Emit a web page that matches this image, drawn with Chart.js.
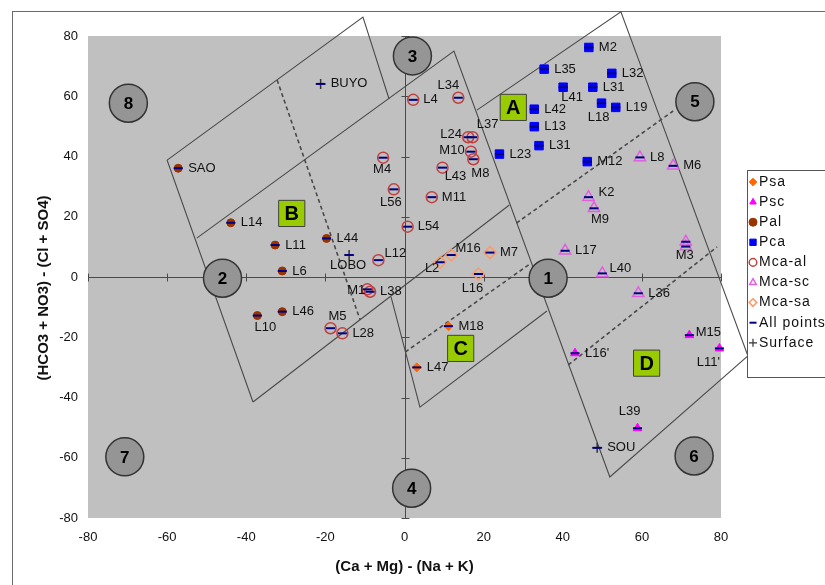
<!DOCTYPE html>
<html>
<head>
<meta charset="utf-8">
<script src="https://cdn.jsdelivr.net/npm/chart.js@4/dist/chart.umd.min.js"></script>
<style>
  html, body { margin: 0; padding: 0; background: #fff; }
</style>
</head>
<body>
<canvas id="chart" width="825" height="585"></canvas>
<script>
// samples, one set of arrays per group
const psaNames = ['M18', 'L47']
const psaX = [11.1, 3.1]
const psaY = [-16.3, -30.0]

const pscNames = ["L16'", 'M15', "L11'", 'L39']
const pscX = [43.1, 72.0, 79.6, 58.9]
const pscY = [-25.3, -19.3, -23.7, -50.2]

const palNames = ['SAO', 'L14', 'L11', 'L44', 'L6', 'L46', 'L10']
const palX = [-57.2, -43.9, -32.7, -19.7, -30.9, -30.9, -37.2]
const palY = [36.1, 18.0, 10.6, 12.8, 2.0, -11.5, -12.8]

const pcaNames = ['M2', 'L35', 'L32', 'L41', 'L31', 'L18', 'L19', 'L42', 'L13', 'L31', 'L23', 'M12']
const pcaX = [46.6, 35.3, 52.4, 40.1, 47.6, 49.8, 53.4, 32.8, 32.8, 34.0, 24.0, 46.2]
const pcaY = [76.2, 69.0, 67.6, 63.0, 63.0, 57.7, 56.3, 55.7, 49.9, 43.6, 40.8, 38.3]

const mcaAlNames = ['L12', 'M4', 'L56', 'L4', 'L34', 'L24', 'L37', 'M10', 'M8', 'L43', 'M11', 'L54', 'M5', 'L28', 'M1', 'L38']
const mcaAlX = [-6.6, -5.4, -2.7, 2.2, 13.6, 16.1, 17.2, 16.8, 17.4, 9.6, 6.9, 0.8, -18.7, -15.7, -9.4, -8.7]
const mcaAlY = [5.6, 39.6, 29.1, 58.8, 59.5, 46.4, 46.4, 41.6, 39.1, 36.3, 26.5, 16.7, -17.0, -18.7, -4.1, -4.9]

const mcaScNames = ['L8', 'M6', 'K2', 'M9', 'L17', 'M3', '', 'L40', 'L36']
const mcaScX = [59.5, 67.9, 46.5, 47.9, 40.6, 71.1, 71.1, 50.0, 59.1]
const mcaScY = [39.7, 36.9, 26.5, 22.8, 8.7, 11.7, 10.1, 1.2, -5.4]

const mcaSaNames = ['M16', 'L2', 'M7', 'L16']
const mcaSaX = [11.8, 9.0, 21.6, 18.7]
const mcaSaY = [7.3, 4.9, 8.1, 1.0]

const surfNames = ['BUYO', 'LOBO', 'SOU']
const surfX = [-21.2, -14.0, 48.7]
const surfY = [64.1, 7.3, -56.7]

// numbered fields of the diagram and the A-D boxes
const zoneNames = ['1', '2', '3', '4', '5', '6', '7', '8']
const zoneX = [36.3, -46.0, 2.0, 1.8, 73.4, 73.2, -70.7, -69.8]
const zoneY = [-0.4, -0.4, 73.4, -70.1, 58.2, -59.4, -59.7, 57.7]

const fieldNames = ['A', 'B', 'C', 'D']
const fieldX = [27.5, -28.5, 14.2, 61.2]
const fieldY = [56.3, 21.1, -23.7, -28.6]

// outlines of the rotated fields
const edge1X = [-38.3, -60.0, -10.5, -3.9]
const edge1Y = [-41.5, 38.8, 86.3, 59.1]
const edge2X = [-52.5, 12.5, 51.9, 86.8, 54.7, 18.3]
const edge2Y = [12.9, 75.0, -66.4, -26.2, 88.0, 55.4]
const edge3X = [-38.3, 26.5]
const edge3Y = [-41.5, 23.9]
const edge4X = [-3.4, 3.9, 36.0]
const edge4Y = [-6.6, -43.2, -11.3]

const dash1X = [-32.2, -11.2]
const dash1Y = [65.4, -14.3]
const dash2X = [0.2, 32.0]
const dash2Y = [-24.9, 4.6]
const dash3X = [28.3, 67.9]
const dash3Y = [17.9, 55.1]
const dash4X = [41.4, 79.0]
const dash4Y = [-29.2, 10.0]

const tickValues = [-80, -60, -40, -20, 0, 20, 40, 60, 80]

// where a label does not sit to the right of its point: centre offset in px
const labelAt = {
  'L10': [8, 12], 'M4': [-1, 12], 'L56': [-3, 13], 'L34': [-10, -12], 'L24': [-17, -3],
  'L37': [15, -13], 'M10': [-19, -1], 'M8': [7, 14], 'L43': [13, 9], 'L12': [17, -7],
  'M16': [17, -7], 'L2': [-8, 6], 'L16': [-6, 14], 'M1': [-11, 1], 'M5': [7, -12],
  'LOBO': [-1, 10], 'L41': [9, 10], 'L18': [-3, 14], 'K2': [18, -5], 'M9': [6, 11],
  'M3': [-1, 14], 'L40': [18, -5], "L11'": [-11, 14], 'L39': [-8, -17], 'M15': [19, -3]
}

function pts(xs, ys) {
  return xs.map((x, i) => ({ x: x, y: ys[i] }))
}

const groups = [
  { label: 'Psa', names: psaNames, xs: psaX, ys: psaY, pointStyle: 'rectRot', radius: 4.5, bg: '#ff6600', border: '#ff6600', width: 1 },
  { label: 'Psc', names: pscNames, xs: pscX, ys: pscY, pointStyle: 'triangle', radius: 5, bg: '#ff00ff', border: '#ff00ff', width: 1 },
  { label: 'Pal', names: palNames, xs: palX, ys: palY, pointStyle: 'circle', radius: 4, bg: '#993300', border: '#993300', width: 1 },
  { label: 'Pca', names: pcaNames, xs: pcaX, ys: pcaY, pointStyle: 'rect', radius: 6, bg: '#0000ff', border: '#0000ff', width: 1 },
  { label: 'Mca-al', names: mcaAlNames, xs: mcaAlX, ys: mcaAlY, pointStyle: 'circle', radius: 5.5, bg: 'rgba(0,0,0,0)', border: '#c04040', width: 1.5 },
  { label: 'Mca-sc', names: mcaScNames, xs: mcaScX, ys: mcaScY, pointStyle: 'triangle', radius: 6.5, bg: 'rgba(0,0,0,0)', border: '#e060e0', width: 1.5 },
  { label: 'Mca-sa', names: mcaSaNames, xs: mcaSaX, ys: mcaSaY, pointStyle: 'rectRot', radius: 6, bg: 'rgba(0,0,0,0)', border: '#ff9966', width: 1.5 }
]
const surface = { label: 'Surface', names: surfNames, xs: surfX, ys: surfY, pointStyle: 'cross', radius: 5, bg: '#333', border: '#333', width: 1.5 }

function markerSet(g) {
  return {
    label: g.label,
    data: pts(g.xs, g.ys),
    pointStyle: g.pointStyle,
    pointRadius: g.radius,
    backgroundColor: g.bg,
    borderColor: g.border,
    borderWidth: g.width,
    clip: false
  }
}

function lineSet(xs, ys, dashed) {
  return {
    label: '',
    data: pts(xs, ys),
    showLine: true,
    pointRadius: 0,
    borderColor: '#4a4a4a',
    borderWidth: dashed ? 1.6 : 1.1,
    borderDash: dashed ? [4, 3] : [],
    clip: false
  }
}

let allX = []
let allY = []
groups.concat([surface]).forEach(g => {
  allX = allX.concat(g.xs)
  allY = allY.concat(g.ys)
})

// first dataset is drawn on top
let datasets = []
datasets.push({ label: 'zones', data: pts(zoneX, zoneY), pointStyle: 'circle', pointRadius: 19, backgroundColor: '#959595', borderColor: '#333333', borderWidth: 1.5, clip: false })
datasets.push({ label: 'fields', data: pts(fieldX, fieldY), pointStyle: 'rect', pointRadius: 18.5, backgroundColor: '#99cc00', borderColor: '#404040', borderWidth: 1, clip: false })
datasets.push({ label: 'All points', data: pts(allX, allY), pointStyle: 'line', pointRadius: 4.5, borderColor: '#000080', borderWidth: 2, clip: false })
datasets.push(markerSet(surface))
groups.slice().reverse().forEach(g => datasets.push(markerSet(g)))
datasets.push(lineSet(dash1X, dash1Y, true))
datasets.push(lineSet(dash2X, dash2Y, true))
datasets.push(lineSet(dash3X, dash3Y, true))
datasets.push(lineSet(dash4X, dash4Y, true))
datasets.push(lineSet(edge1X, edge1Y, false))
datasets.push(lineSet(edge2X, edge2Y, false))
datasets.push(lineSet(edge3X, edge3Y, false))
datasets.push(lineSet(edge4X, edge4Y, false))

const legendItems = groups.concat([
  { label: 'All points', pointStyle: 'line', radius: 3.5, bg: '#000080', border: '#000080', width: 2 },
  { label: 'Surface', pointStyle: 'cross', radius: 4, bg: '#333', border: '#333', width: 1.2 }
])

const yTitle = '(HCO3 + NO3) - (Cl + SO4)'
const fontFamily = '"Liberation Sans", Arial, sans-serif'

const diagram = {
  id: 'diagram',
  beforeDraw(chart) {
    let ctx = chart.ctx
    let a = chart.chartArea
    ctx.save()
    ctx.fillStyle = '#ffffff'
    ctx.fillRect(0, 0, chart.width, chart.height)
    ctx.strokeStyle = '#6a6a6a'
    ctx.lineWidth = 1
    ctx.strokeRect(12.5, 11.5, chart.width + 20, chart.height + 20)
    ctx.fillStyle = '#c0c0c0'
    ctx.fillRect(a.left, a.top, a.right - a.left, a.bottom - a.top)
    ctx.restore()
  },
  beforeDatasetsDraw(chart) {
    let ctx = chart.ctx
    let xs = chart.scales.x
    let ys = chart.scales.y
    let x0 = Math.round(xs.getPixelForValue(0)) + 0.5
    let y0 = Math.round(ys.getPixelForValue(0)) + 0.5
    ctx.save()
    ctx.strokeStyle = '#4a4a4a'
    ctx.lineWidth = 1
    ctx.beginPath()
    ctx.moveTo(xs.left, y0)
    ctx.lineTo(xs.right, y0)
    ctx.moveTo(x0, ys.top)
    ctx.lineTo(x0, ys.bottom)
    tickValues.forEach(v => {
      let px = Math.round(xs.getPixelForValue(v)) + 0.5
      ctx.moveTo(px, y0 - 4)
      ctx.lineTo(px, y0 + 4)
      let py = Math.round(ys.getPixelForValue(v)) + 0.5
      ctx.moveTo(x0 - 4, py)
      ctx.lineTo(x0 + 4, py)
    })
    ctx.stroke()
    ctx.restore()
  },
  afterDatasetsDraw(chart) {
    let ctx = chart.ctx
    let xs = chart.scales.x
    let ys = chart.scales.y
    ctx.save()
    ctx.textBaseline = 'middle'
    ctx.fillStyle = '#111'
    ctx.font = '13px ' + fontFamily
    groups.concat([surface]).forEach(g => {
      g.names.forEach((name, i) => {
        if (!name) return
        let px = xs.getPixelForValue(g.xs[i])
        let py = ys.getPixelForValue(g.ys[i])
        let off = labelAt[name]
        if (off) {
          ctx.textAlign = 'center'
          ctx.fillText(name, px + off[0], py + off[1])
        } else {
          ctx.textAlign = 'left'
          ctx.fillText(name, px + 10, py)
        }
      })
    })
    ctx.textAlign = 'center'
    ctx.fillStyle = '#000'
    ctx.font = 'bold 17px ' + fontFamily
    zoneNames.forEach((n, i) => {
      ctx.fillText(n, xs.getPixelForValue(zoneX[i]), ys.getPixelForValue(zoneY[i]) + 1)
    })
    ctx.font = 'bold 20px ' + fontFamily
    fieldNames.forEach((n, i) => {
      ctx.fillText(n, xs.getPixelForValue(fieldX[i]), ys.getPixelForValue(fieldY[i]) + 1)
    })
    ctx.restore()
  },
  afterDraw(chart) {
    let ctx = chart.ctx
    // value axis title, a bit below the middle as in the original
    ctx.save()
    ctx.translate(44, 288)
    ctx.rotate(-Math.PI / 2)
    ctx.font = 'bold 15px ' + fontFamily
    ctx.fillStyle = '#111'
    ctx.textAlign = 'center'
    ctx.textBaseline = 'middle'
    ctx.fillText(yTitle, 0, 0)
    ctx.restore()

    let left = 747.5
    let top = 170.5
    ctx.save()
    ctx.fillStyle = '#ffffff'
    ctx.fillRect(left, top, 120, 207)
    ctx.strokeStyle = '#555'
    ctx.lineWidth = 1
    ctx.strokeRect(left, top, 120, 207)
    ctx.font = '14px ' + fontFamily
    ctx.letterSpacing = '1px'
    ctx.textBaseline = 'middle'
    ctx.textAlign = 'left'
    legendItems.forEach((it, i) => {
      let y = 182 + i * 20.1
      ctx.fillStyle = it.bg
      ctx.strokeStyle = it.border
      ctx.lineWidth = it.width
      let r = it.radius > 4 ? 3.8 : it.radius
      if (it.pointStyle === 'rect') r = 4.5
      Chart.helpers.drawPoint(ctx, { pointStyle: it.pointStyle, radius: r, borderWidth: it.width, rotation: 0 }, 753, y)
      ctx.fillStyle = '#111'
      ctx.fillText(it.label, 759, y)
    })
    ctx.restore()
  }
}

const titleFont = { family: fontFamily, size: 15, weight: 'bold' }
const tickFont = { family: fontFamily, size: 13 }

new Chart(document.getElementById('chart'), {
  type: 'scatter',
  data: { datasets: datasets },
  options: {
    responsive: false,
    animation: false,
    devicePixelRatio: 1,
    events: [],
    layout: { padding: { left: 0, top: 36, right: 104, bottom: 0 } },
    plugins: { legend: { display: false }, tooltip: { enabled: false } },
    scales: {
      x: {
        min: -80, max: 80,
        afterBuildTicks: s => { s.ticks = tickValues.map(v => ({ value: v })) },
        afterFit: s => { s.height = 67 },
        grid: { display: false, drawTicks: false },
        border: { display: false },
        ticks: { font: tickFont, color: '#111', padding: 12, maxRotation: 0 },
        title: { display: true, text: '(Ca + Mg) - (Na + K)', font: titleFont, color: '#111', padding: { top: 0, bottom: 9 } }
      },
      y: {
        min: -80, max: 80,
        afterBuildTicks: s => { s.ticks = tickValues.map(v => ({ value: v })) },
        afterFit: s => { s.width = 88 },
        grid: { display: false, drawTicks: false },
        border: { display: false },
        ticks: { font: tickFont, color: '#111', padding: 10 }
      }
    }
  },
  plugins: [diagram]
})
</script>
</body>
</html>
